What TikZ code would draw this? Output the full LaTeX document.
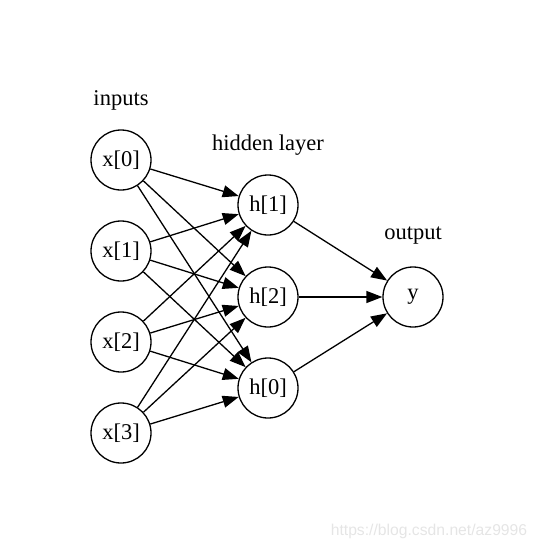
\documentclass[tikz,border=0pt]{standalone}
\usepackage{fontspec}
\setmainfont{Liberation Serif}
\newfontfamily\wmfont{Liberation Sans}
\usetikzlibrary{arrows.meta}

\begin{document}
\begin{tikzpicture}[x = 1pt, y = -1pt,
    neuron/.style = {circle, draw, line width = 1.3pt, minimum size = 60pt,
      inner sep = 0pt, font = \fontsize{22.5}{26}\selectfont},
    layername/.style = {font = \fontsize{22.5}{26}\selectfont},
    edge/.style = {line width = 1.3pt, -{Triangle[length = 16pt, width = 12pt]}}]
        \useasboundingbox (0, 0) rectangle (536, 551);

        % input layer
        \foreach \i/\y in {0/160, 1/251, 2/342, 3/433} {
          \node [neuron] (x\i) at (121, \y) {x[\i]};
        }

        % hidden layer
        \foreach \i/\y in {1/205, 2/297, 0/388} {
          \node [neuron] (h\i) at (268, \y) {h[\i]};
        }

        % output
        \node [neuron] (out) at (413, 297) {y};

        \node [layername] (inlabel) at (121, 100) {inputs};
        \node [layername] (hidlabel) at (268, 145) {hidden layer};
        \node [layername] (outlabel) at (413, 236) {output};

        \foreach \i in {0, 1, 2, 3} {
          \foreach \j in {1, 2, 0} {
            \draw [edge] (x\i) -- (h\j);
          }
        }

        \foreach \j in {1, 2, 0} {
          \draw [edge] (h\j) -- (out);
        }

        \node [font = \wmfont\fontsize{15.7}{18}\selectfont, text = black!10] (mark) at (429, 531) {https://blog.csdn.net/az9996};
      \end{tikzpicture}
\end{document}
